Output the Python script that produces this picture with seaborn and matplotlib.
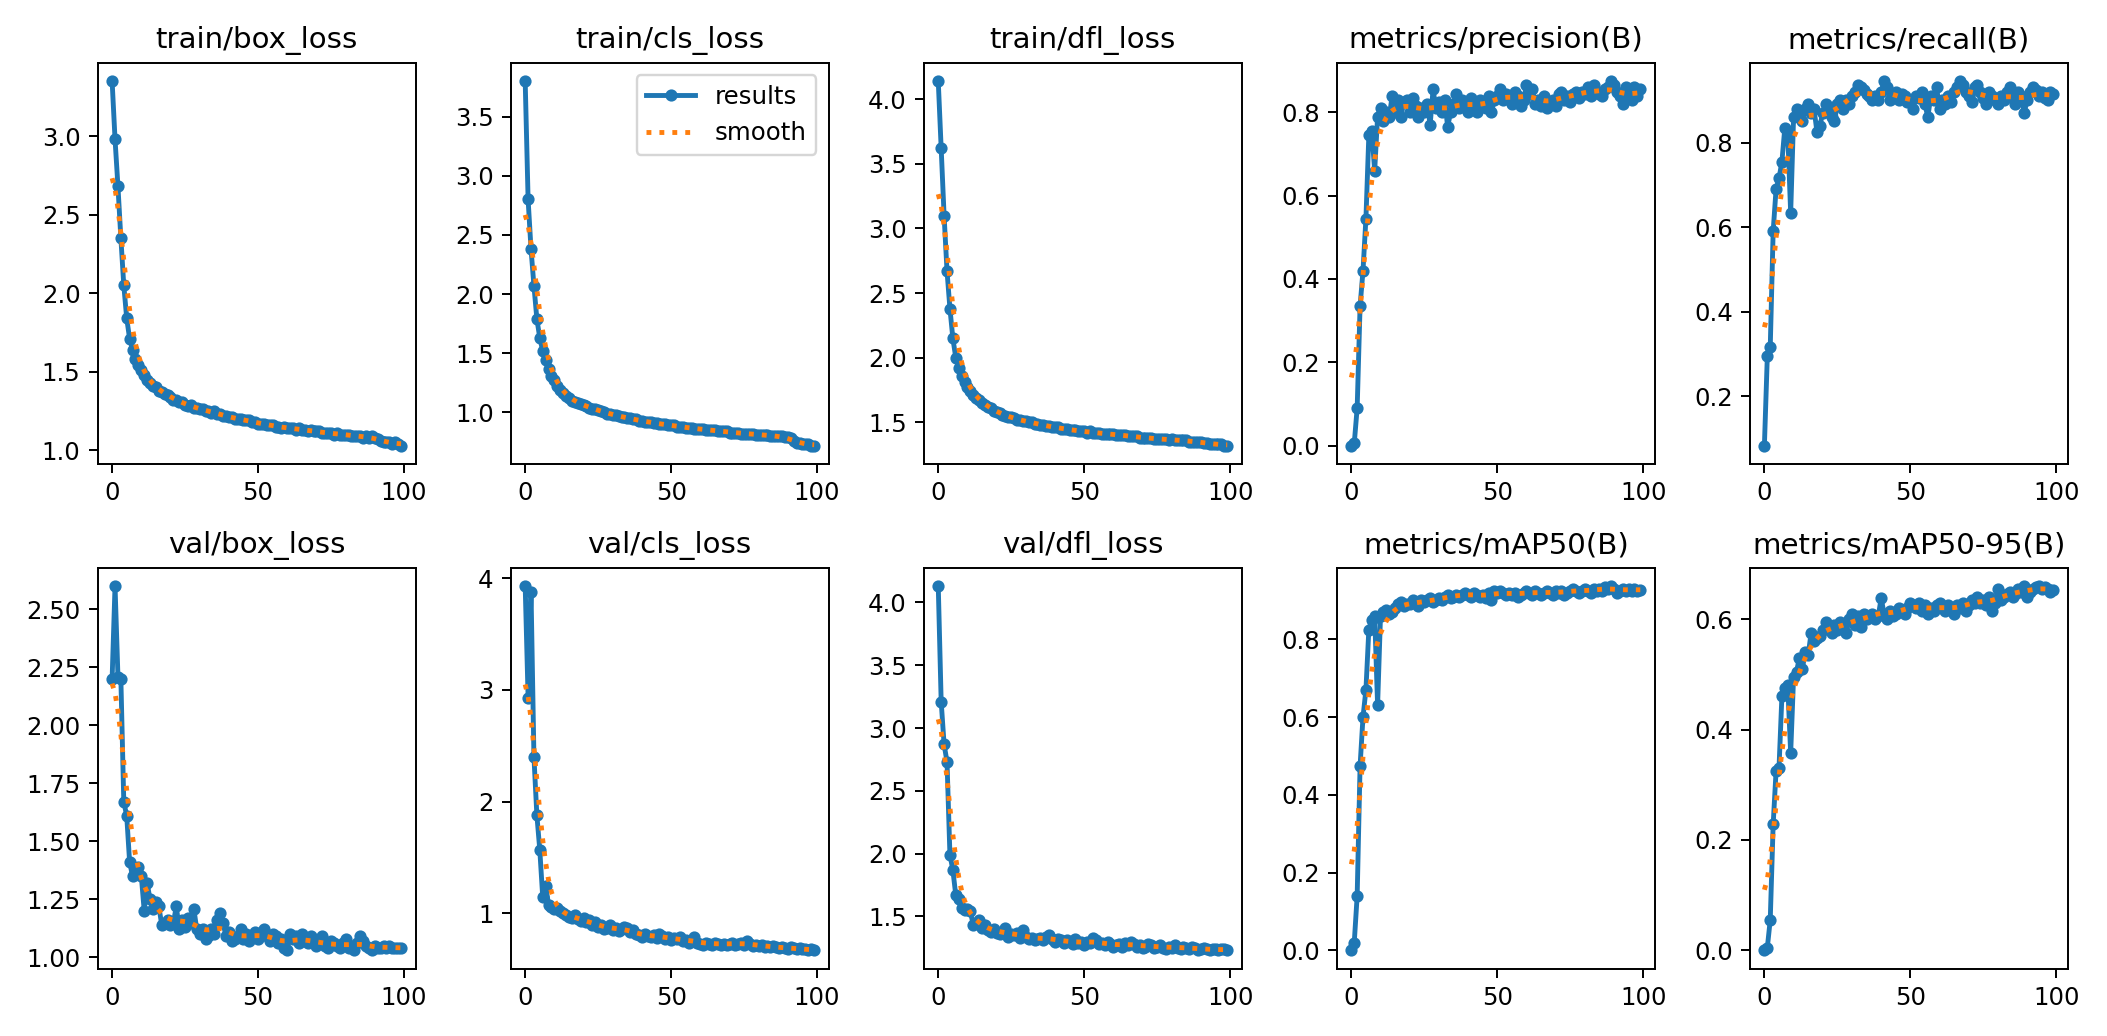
import numpy as np
import matplotlib
matplotlib.use("Agg")
import matplotlib.pyplot as plt
from matplotlib.ticker import MultipleLocator
import seaborn as sns

# epochs 0..99
epochs = np.arange(100)

titles = ["train/box_loss", "train/cls_loss", "train/dfl_loss",
          "metrics/precision(B)", "metrics/recall(B)",
          "val/box_loss", "val/cls_loss", "val/dfl_loss",
          "metrics/mAP50(B)", "metrics/mAP50-95(B)"]

# y tick spacing used in each panel
ytick_step = [0.5, 0.5, 0.5, 0.2, 0.2, 0.25, 1, 0.5, 0.2, 0.2]

train_box_loss = [
    3.35, 2.98, 2.68, 2.35, 2.05, 1.84, 1.71, 1.64, 1.58, 1.54,
    1.51, 1.48, 1.45, 1.43, 1.41, 1.40, 1.38, 1.37, 1.36, 1.35,
    1.34, 1.32, 1.32, 1.31, 1.31, 1.29, 1.28, 1.29, 1.27, 1.27,
    1.26, 1.26, 1.25, 1.25, 1.24, 1.25, 1.23, 1.23, 1.22, 1.22,
    1.21, 1.21, 1.20, 1.20, 1.20, 1.19, 1.19, 1.19, 1.18, 1.18,
    1.17, 1.17, 1.17, 1.16, 1.16, 1.16, 1.15, 1.15, 1.14, 1.15,
    1.14, 1.14, 1.14, 1.13, 1.14, 1.13, 1.13, 1.12, 1.13, 1.12,
    1.12, 1.12, 1.11, 1.11, 1.11, 1.11, 1.10, 1.11, 1.10, 1.10,
    1.10, 1.10, 1.09, 1.09, 1.09, 1.09, 1.08, 1.09, 1.08, 1.09,
    1.08, 1.07, 1.06, 1.05, 1.05, 1.05, 1.04, 1.05, 1.04, 1.03]

train_cls_loss = [
    3.80, 2.80, 2.38, 2.07, 1.79, 1.63, 1.52, 1.44, 1.37, 1.31,
    1.27, 1.22, 1.19, 1.16, 1.14, 1.12, 1.10, 1.09, 1.08, 1.07,
    1.06, 1.05, 1.04, 1.03, 1.03, 1.02, 1.01, 1.00, 0.99, 0.99,
    0.98, 0.98, 0.97, 0.96, 0.96, 0.95, 0.95, 0.94, 0.94, 0.93,
    0.93, 0.92, 0.92, 0.92, 0.91, 0.91, 0.90, 0.90, 0.90, 0.89,
    0.89, 0.89, 0.88, 0.88, 0.88, 0.87, 0.87, 0.87, 0.86, 0.86,
    0.86, 0.86, 0.85, 0.85, 0.85, 0.85, 0.84, 0.84, 0.84, 0.84,
    0.83, 0.83, 0.83, 0.83, 0.82, 0.82, 0.82, 0.82, 0.82, 0.81,
    0.81, 0.81, 0.81, 0.81, 0.80, 0.80, 0.80, 0.80, 0.80, 0.79,
    0.79, 0.78, 0.76, 0.74, 0.74, 0.73, 0.73, 0.73, 0.72, 0.72]

train_dfl_loss = [
    4.14, 3.62, 3.10, 2.67, 2.38, 2.15, 2.00, 1.92, 1.86, 1.81,
    1.77, 1.74, 1.71, 1.69, 1.67, 1.65, 1.63, 1.62, 1.61, 1.59,
    1.58, 1.57, 1.56, 1.55, 1.54, 1.54, 1.53, 1.52, 1.52, 1.51,
    1.51, 1.50, 1.50, 1.49, 1.49, 1.48, 1.48, 1.47, 1.47, 1.46,
    1.46, 1.46, 1.45, 1.45, 1.45, 1.44, 1.44, 1.44, 1.43, 1.43,
    1.43, 1.42, 1.43, 1.42, 1.42, 1.42, 1.41, 1.41, 1.41, 1.41,
    1.41, 1.40, 1.40, 1.40, 1.40, 1.39, 1.39, 1.39, 1.39, 1.38,
    1.38, 1.38, 1.38, 1.38, 1.37, 1.37, 1.37, 1.37, 1.37, 1.36,
    1.37, 1.36, 1.36, 1.36, 1.36, 1.36, 1.35, 1.35, 1.35, 1.35,
    1.35, 1.34, 1.34, 1.33, 1.33, 1.33, 1.33, 1.33, 1.32, 1.32]

precision = [
    0.000, 0.005, 0.090, 0.335, 0.420, 0.545, 0.745, 0.755, 0.660, 0.790,
    0.810, 0.780, 0.800, 0.790, 0.840, 0.800, 0.830, 0.790, 0.825, 0.830,
    0.800, 0.835, 0.815, 0.790, 0.810, 0.800, 0.820, 0.770, 0.855, 0.810,
    0.825, 0.800, 0.830, 0.765, 0.800, 0.820, 0.845, 0.810, 0.830, 0.820,
    0.800, 0.835, 0.820, 0.800, 0.830, 0.820, 0.810, 0.840, 0.800, 0.830,
    0.840, 0.855, 0.830, 0.845, 0.835, 0.820, 0.850, 0.840, 0.815, 0.830,
    0.865, 0.845, 0.855, 0.820, 0.830, 0.815, 0.840, 0.810, 0.825, 0.830,
    0.815, 0.845, 0.850, 0.830, 0.840, 0.825, 0.845, 0.850, 0.835, 0.850,
    0.845, 0.860, 0.840, 0.865, 0.850, 0.845, 0.840, 0.855, 0.860, 0.875,
    0.865, 0.850, 0.840, 0.820, 0.860, 0.840, 0.830, 0.860, 0.840, 0.855]

recall = [
    0.084, 0.295, 0.316, 0.590, 0.690, 0.715, 0.755, 0.835, 0.820, 0.633,
    0.860, 0.880, 0.870, 0.850, 0.880, 0.890, 0.870, 0.880, 0.825, 0.840,
    0.870, 0.890, 0.880, 0.860, 0.850, 0.890, 0.900, 0.880, 0.900, 0.890,
    0.910, 0.920, 0.935, 0.930, 0.925, 0.915, 0.910, 0.900, 0.910, 0.900,
    0.920, 0.945, 0.930, 0.900, 0.910, 0.920, 0.900, 0.915, 0.910, 0.895,
    0.900, 0.880, 0.910, 0.905, 0.920, 0.890, 0.860, 0.910, 0.900, 0.930,
    0.880, 0.900, 0.890, 0.910, 0.895, 0.920, 0.930, 0.945, 0.935, 0.920,
    0.910, 0.895, 0.930, 0.935, 0.920, 0.905, 0.890, 0.920, 0.910, 0.900,
    0.890, 0.910, 0.900, 0.920, 0.930, 0.905, 0.890, 0.920, 0.910, 0.870,
    0.900, 0.920, 0.930, 0.925, 0.910, 0.920, 0.905, 0.900, 0.920, 0.915]

val_box_loss = [
    2.20, 2.60, 2.21, 2.20, 1.67, 1.61, 1.41, 1.35, 1.38, 1.39,
    1.35, 1.20, 1.32, 1.25, 1.21, 1.24, 1.22, 1.14, 1.15, 1.16,
    1.14, 1.15, 1.22, 1.12, 1.16, 1.13, 1.17, 1.15, 1.21, 1.12,
    1.10, 1.12, 1.08, 1.09, 1.12, 1.10, 1.16, 1.19, 1.15, 1.09,
    1.11, 1.07, 1.08, 1.09, 1.12, 1.08, 1.10, 1.07, 1.09, 1.11,
    1.08, 1.10, 1.12, 1.09, 1.07, 1.10, 1.09, 1.06, 1.08, 1.04,
    1.03, 1.10, 1.08, 1.09, 1.06, 1.10, 1.07, 1.06, 1.09, 1.07,
    1.05, 1.06, 1.09, 1.05, 1.04, 1.07, 1.06, 1.05, 1.04, 1.06,
    1.08, 1.04, 1.05, 1.03, 1.06, 1.09, 1.07, 1.05, 1.04, 1.03,
    1.05, 1.04, 1.04, 1.05, 1.04, 1.05, 1.04, 1.04, 1.04, 1.04]

val_cls_loss = [
    3.93, 2.93, 3.88, 2.40, 1.88, 1.57, 1.15, 1.25, 1.08, 1.06,
    1.04, 1.05, 1.02, 1.00, 0.99, 0.97, 0.96, 0.99, 0.95, 0.93,
    0.96, 0.92, 0.94, 0.90, 0.92, 0.88, 0.90, 0.86, 0.87, 0.90,
    0.85, 0.87, 0.84, 0.86, 0.88, 0.87, 0.83, 0.85, 0.82, 0.81,
    0.79, 0.82, 0.80, 0.79, 0.81, 0.78, 0.82, 0.80, 0.77, 0.79,
    0.76, 0.78, 0.77, 0.79, 0.75, 0.76, 0.74, 0.76, 0.79, 0.74,
    0.73, 0.72, 0.74, 0.73, 0.72, 0.74, 0.73, 0.72, 0.73, 0.72,
    0.73, 0.74, 0.72, 0.73, 0.74, 0.72, 0.75, 0.73, 0.71, 0.72,
    0.71, 0.72, 0.70, 0.71, 0.70, 0.71, 0.70, 0.69, 0.70, 0.69,
    0.68, 0.70, 0.69, 0.68, 0.69, 0.68, 0.68, 0.67, 0.68, 0.67]

val_dfl_loss = [
    4.13, 3.21, 2.87, 2.73, 1.99, 1.87, 1.67, 1.64, 1.57, 1.55,
    1.56, 1.54, 1.43, 1.45, 1.47, 1.41, 1.43, 1.39, 1.38, 1.40,
    1.37, 1.36, 1.38, 1.41, 1.34, 1.36, 1.35, 1.37, 1.33, 1.39,
    1.34, 1.32, 1.33, 1.31, 1.32, 1.33, 1.31, 1.34, 1.35, 1.32,
    1.30, 1.32, 1.31, 1.29, 1.31, 1.30, 1.28, 1.32, 1.29, 1.30,
    1.27, 1.30, 1.29, 1.33, 1.31, 1.28, 1.29, 1.27, 1.30, 1.28,
    1.26, 1.27, 1.28, 1.26, 1.29, 1.27, 1.30, 1.28, 1.26, 1.27,
    1.25, 1.26, 1.28, 1.27, 1.25, 1.26, 1.27, 1.25, 1.24, 1.26,
    1.25, 1.27, 1.25, 1.24, 1.26, 1.25, 1.24, 1.26, 1.25, 1.23,
    1.24, 1.25, 1.24, 1.23, 1.24, 1.24, 1.23, 1.24, 1.24, 1.23]

map50 = [
    0.000, 0.020, 0.140, 0.475, 0.600, 0.670, 0.825, 0.850, 0.860, 0.630,
    0.860, 0.870, 0.875, 0.865, 0.870, 0.880, 0.890, 0.895, 0.885, 0.890,
    0.890, 0.900, 0.895, 0.885, 0.900, 0.895, 0.900, 0.905, 0.895, 0.900,
    0.905, 0.900, 0.910, 0.915, 0.905, 0.910, 0.915, 0.910, 0.915, 0.920,
    0.915, 0.910, 0.920, 0.915, 0.910, 0.915, 0.905, 0.920, 0.900, 0.925,
    0.920, 0.925, 0.920, 0.915, 0.920, 0.915, 0.920, 0.910, 0.915, 0.920,
    0.925, 0.920, 0.915, 0.925, 0.920, 0.915, 0.920, 0.925, 0.920, 0.915,
    0.925, 0.920, 0.925, 0.915, 0.920, 0.925, 0.930, 0.925, 0.920, 0.925,
    0.930, 0.925, 0.920, 0.930, 0.925, 0.930, 0.925, 0.935, 0.930, 0.937,
    0.930, 0.920, 0.925, 0.930, 0.925, 0.930, 0.925, 0.930, 0.925, 0.928]

map50_95 = [
    0.000, 0.005, 0.055, 0.228, 0.325, 0.330, 0.461, 0.475, 0.480, 0.357,
    0.495, 0.505, 0.530, 0.510, 0.540, 0.535, 0.575, 0.560, 0.565, 0.570,
    0.580, 0.595, 0.585, 0.575, 0.590, 0.580, 0.595, 0.585, 0.575, 0.600,
    0.610, 0.590, 0.605, 0.585, 0.610, 0.600, 0.605, 0.610, 0.600, 0.605,
    0.638, 0.610, 0.600, 0.615, 0.605, 0.610, 0.620, 0.615, 0.610, 0.620,
    0.630, 0.625, 0.620, 0.630, 0.615, 0.625, 0.610, 0.620, 0.615, 0.625,
    0.630, 0.620, 0.615, 0.625, 0.620, 0.610, 0.625, 0.620, 0.630, 0.615,
    0.625, 0.635, 0.630, 0.640, 0.630, 0.635, 0.625, 0.640, 0.615, 0.630,
    0.655, 0.635, 0.640, 0.645, 0.650, 0.640, 0.645, 0.655, 0.650, 0.660,
    0.640, 0.650, 0.655, 0.658, 0.660, 0.655, 0.658, 0.655, 0.650, 0.652]

series = [train_box_loss, train_cls_loss, train_dfl_loss, precision, recall,
          val_box_loss, val_cls_loss, val_dfl_loss, map50, map50_95]


def gaussian_smooth(y, sigma=3):
    # same as scipy gaussian_filter1d (mode='reflect', truncate=4)
    y = np.asarray(y, dtype=float)
    r = int(4 * sigma + 0.5)
    k = np.exp(-0.5 * (np.arange(-r, r + 1) / sigma) ** 2)
    k /= k.sum()
    yp = np.pad(y, r, mode="symmetric")
    return np.convolve(yp, k, mode="valid")


blue = "#1f77b4"
orange = "#ff7f0e"

fig, axes = plt.subplots(2, 5, figsize=(12, 5.9), dpi=175.6)
axes = axes.ravel()

for a, title, y, step in zip(axes, titles, series, ytick_step):
    sns.lineplot(x=epochs, y=y, ax=a, marker=".", linewidth=2, markersize=8,
                 color=blue, markeredgecolor=blue, markeredgewidth=1,
                 label="results", legend=False)
    sns.lineplot(x=epochs, y=gaussian_smooth(y), ax=a, linestyle=":",
                 linewidth=2, color=orange, label="smooth", legend=False)
    a.set_title(title, fontsize=12)
    a.set_xlabel("")
    a.set_ylabel("")
    a.yaxis.set_major_locator(MultipleLocator(step))

axes[1].legend()

plt.tight_layout()
plt.savefig("out.png")
plt.close()
